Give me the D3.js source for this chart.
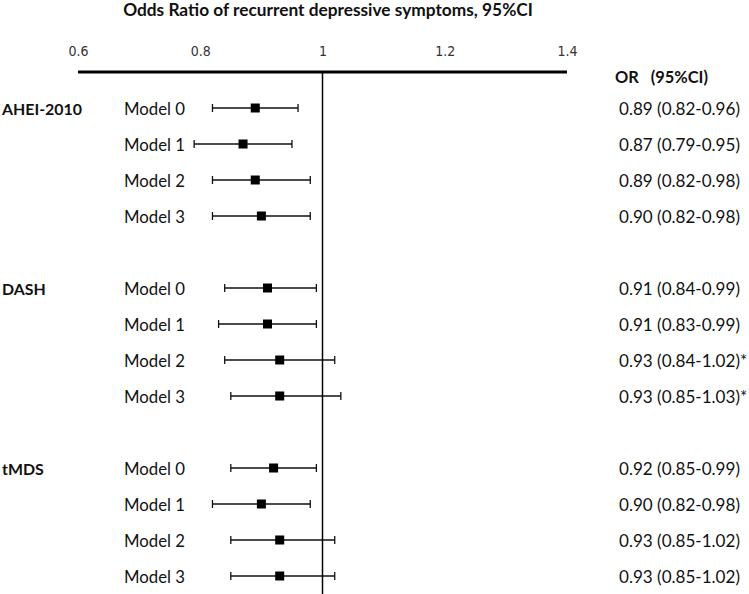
<!DOCTYPE html>
<html>
<head>
<meta charset="utf-8">
<script src="https://cdn.jsdelivr.net/npm/d3@7"></script>
<style>
  body { margin: 0; background: #fff; }
  svg { display: block; }
</style>
</head>
<body>
<svg id="chart" width="749" height="594"></svg>
<script>
const title = "Odds Ratio of recurrent depressive symptoms, 95%CI";
const groups = ["AHEI-2010", "DASH", "tMDS"];
const models = ["Model 0", "Model 1", "Model 2", "Model 3"];
const orValues = [0.89, 0.87, 0.89, 0.90, 0.91, 0.91, 0.93, 0.93, 0.92, 0.90, 0.93, 0.93];
const lowerCI  = [0.82, 0.79, 0.82, 0.82, 0.84, 0.83, 0.84, 0.85, 0.85, 0.82, 0.85, 0.85];
const upperCI  = [0.96, 0.95, 0.98, 0.98, 0.99, 0.99, 1.02, 1.03, 0.99, 0.98, 1.02, 1.02];
const notes    = ["", "", "", "", "", "", "*", "*", "", "", "", ""];
const tickValues = [0.6, 0.8, 1.0, 1.2, 1.4];
const tickLabels = ["0.6", "0.8", "1", "1.2", "1.4"];
const headerLabel = "OR   (95%CI)";

const rows = [];
groups.forEach((g, gi) => {
  models.forEach((m, mi) => {
    const i = gi * models.length + mi;
    rows.push({ group: g, model: m, first: mi === 0, slot: gi * 5 + mi,
      or: orValues[i], lo: lowerCI[i], hi: upperCI[i], note: notes[i] });
  });
});

const svg = d3.select("#chart");
const font = "Lato, 'Open Sans', sans-serif";

// scale font size of a selection so that its first node has the target width
function fit(sel, target) {
  const n = sel.node();
  const fs = parseFloat(sel.attr("font-size"));
  const w = n.getComputedTextLength();
  if (w > 0) sel.attr("font-size", (fs * target / w).toFixed(2));
  return sel;
}

const x = d3.scaleLinear().domain([0.6, 1.4]).range([78, 567]);
const y = d3.scalePoint().domain(d3.range(14)).range([109, 577]);
const axisY = 72;

// title
const t = svg.append("text").attr("x", 328).attr("y", 16).attr("text-anchor", "middle")
  .attr("font-family", font).attr("font-weight", "bold").attr("font-size", 16)
  .attr("fill", "#111").text(title);
fit(t, 410);

// axis
const axis = d3.axisTop(x).tickValues(tickValues)
  .tickFormat((d, i) => tickLabels[i]).tickSize(0).tickPadding(16);
const ag = svg.append("g").attr("transform", `translate(0,${axisY})`).call(axis);
ag.select(".domain").attr("stroke", "#000").attr("stroke-width", 3)
  .attr("d", `M${x(0.6)},0H${x(1.4)}`);
ag.selectAll(".tick text").attr("font-family", "'Liberation Sans Narrow', 'DejaVu Sans Condensed', sans-serif")
  .attr("font-size", 14).attr("fill", "#333");

// reference line at 1
svg.append("line").attr("x1", x(1)).attr("x2", x(1)).attr("y1", axisY).attr("y2", 594)
  .attr("stroke", "#000").attr("stroke-width", 1.5);

// header
const h = svg.append("text").attr("x", 615).attr("y", 83).attr("font-family", font)
  .attr("font-weight", "bold").attr("font-size", 15).attr("fill", "#111")
  .attr("xml:space", "preserve").text(headerLabel);
fit(h, 93);

const rg = svg.selectAll(".row").data(rows).enter().append("g").attr("class", "row");

const gl = rg.filter(d => d.first).append("text").attr("x", 2).attr("y", d => y(d.slot)).attr("dy", "0.35em")
  .attr("font-family", font).attr("font-weight", "bold").attr("font-size", 15).attr("fill", "#111")
  .text(d => d.group);
fit(gl, 80);

const ml = rg.append("text").attr("x", 124).attr("y", d => y(d.slot)).attr("dy", "0.35em")
  .attr("font-family", font).attr("font-size", 16).attr("fill", "#111").text(d => d.model);
fit(ml, 61);

rg.append("line").attr("x1", d => x(d.lo)).attr("x2", d => x(d.hi))
  .attr("y1", d => y(d.slot) - 1).attr("y2", d => y(d.slot) - 1)
  .attr("stroke", "#111").attr("stroke-width", 1.3);
rg.append("line").attr("x1", d => x(d.lo)).attr("x2", d => x(d.lo))
  .attr("y1", d => y(d.slot) - 5).attr("y2", d => y(d.slot) + 3)
  .attr("stroke", "#111").attr("stroke-width", 1.3);
rg.append("line").attr("x1", d => x(d.hi)).attr("x2", d => x(d.hi))
  .attr("y1", d => y(d.slot) - 5).attr("y2", d => y(d.slot) + 3)
  .attr("stroke", "#111").attr("stroke-width", 1.3);
rg.append("rect").attr("x", d => x(d.or) - 4.5).attr("y", d => y(d.slot) - 5.5)
  .attr("width", 9).attr("height", 9).attr("fill", "#000");

const vl = rg.append("text").attr("x", 619).attr("y", d => y(d.slot)).attr("dy", "0.35em")
  .attr("font-family", font).attr("font-size", 16).attr("fill", "#111")
  .text(d => `${d.or.toFixed(2)} (${d.lo.toFixed(2)}-${d.hi.toFixed(2)})${d.note}`);
fit(vl, 121);
</script>
</body>
</html>
